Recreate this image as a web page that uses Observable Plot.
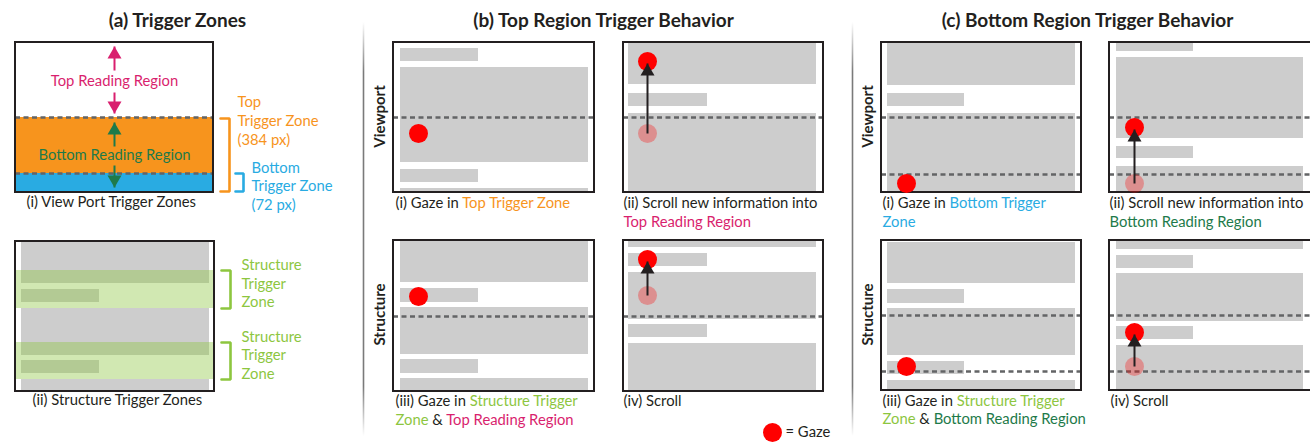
<!DOCTYPE html>
<html><head><meta charset="utf-8">
<script src="https://cdn.jsdelivr.net/npm/d3@7"></script>
<script src="https://cdn.jsdelivr.net/npm/@observablehq/plot@0.6"></script>
<style>html,body{margin:0;padding:0;background:#fff;overflow:hidden} svg{display:block}</style>
</head><body><div id="chart"></div>
<script>
// ---------- data ----------
// panels: outer box, content extent (full block x1..x2, short block end)
const panels = [
  {id:"a1", x1:15,  x2:213,  y1:42,  y2:192},
  {id:"a2", x1:15,  x2:214,  y1:241, y2:391, cx1:21,   cx2:209,  sx2:99},
  {id:"b1", x1:393, x2:594,  y1:42,  y2:192, cx1:400,  cx2:588,  sx2:478},
  {id:"b2", x1:623, x2:823,  y1:42,  y2:192, cx1:628,  cx2:816,  sx2:707},
  {id:"b3", x1:393, x2:594,  y1:240, y2:391, cx1:400,  cx2:588,  sx2:478},
  {id:"b4", x1:623, x2:823,  y1:240, y2:391, cx1:628,  cx2:816,  sx2:707},
  {id:"c1", x1:881, x2:1081, y1:42,  y2:192, cx1:887,  cx2:1075, sx2:964},
  {id:"c2", x1:1109,x2:1314, y1:42,  y2:192, cx1:1116, cx2:1303, sx2:1193},
  {id:"c3", x1:881, x2:1081, y1:240, y2:390, cx1:887,  cx2:1075, sx2:964},
  {id:"c4", x1:1109,x2:1314, y1:240, y2:390, cx1:1116, cx2:1303, sx2:1193}
];
// text blocks (gray) inside each panel: [panel, kind, top, bottom]
const blocks = [
  ["a2","full",241,283],["a2","short",289,302],["a2","full",308,355],["a2","short",360,373],["a2","full",379,391],
  ["b1","short",48,61],["b1","full",67,162],["b1","short",169,182],["b1","full",188,192],
  ["b2","full",42,84],["b2","short",93,106],["b2","full",113,192],
  ["b3","full",240,282],["b3","short",288,302],["b3","full",307,354],["b3","short",359,373],["b3","full",378,391],
  ["b4","full",240,247],["b4","short",253,266],["b4","full",272,319],["b4","short",324,337],["b4","full",343,391],
  ["c1","full",42,85],["c1","short",93,106],["c1","full",113,192],
  ["c2","short",42,51],["c2","full",57,138],["c2","short",146,158],["c2","full",166,192],
  ["c3","full",242,283],["c3","short",289,303],["c3","full",308,355],["c3","short",361,374],["c3","full",380,390],
  ["c4","full",240,249],["c4","short",255,268],["c4","full",273,321],["c4","short",326,339],["c4","full",345,390]
];
// trigger zones in panel (a)
const viewportZones = [
  {role:"orange", x1:15, x2:213, y1:117, y2:173},
  {role:"blue",   x1:15, x2:213, y1:173, y2:192}
];
const structureZones = [
  {x1:15, x2:214, y1:270, y2:308},
  {x1:15, x2:214, y1:342, y2:379}
];
// dashed trigger boundaries: [panel, y]
const boundaries = [
  ["a1",117],["a1",173],["b1",117],["b2",117],["b3",316],["b4",316],
  ["c1",117],["c1",174],["c2",117],["c2",174],["c3",315],["c3",371],["c4",315],["c4",371]
];
// gaze points
const gazeNow = [
  {x:418,y:133},{x:647,y:61},{x:418,y:296},{x:647,y:259},
  {x:906,y:183},{x:1134,y:127},{x:906,y:366},{x:1134,y:332},{x:772,y:432}
];
const gazeBefore = [{x:647,y:133},{x:647,y:295},{x:1134,y:183},{x:1134,y:366}];
// arrows: x, start y, tip y
const arrows = [
  {role:"ink", x:647, from:133, to:63},
  {role:"ink", x:647, from:295, to:261},
  {role:"ink", x:1134,from:183, to:129},
  {role:"ink", x:1134,from:366, to:334},
  {role:"pink", x:114, from:70, to:46},
  {role:"pink", x:114, from:92, to:113},
  {role:"green",x:114, from:146,to:122},
  {role:"green",x:114, from:165,to:187}
];
// brackets: stub x, spine x, top, bottom
const brackets = [
  {role:"orange", xs:220, xv:229, top:118, bottom:191},
  {role:"blue",   xs:235, xv:243, top:173, bottom:191},
  {role:"lime",   xs:221, xv:230, top:270, bottom:308},
  {role:"lime",   xs:221, xv:230, top:342, bottom:379}
];
const separators = [{x:363, y1:22, y2:436},{x:852, y1:22, y2:436}];
// text
const titles = [
  {x:177, y:20, text:"(a) Trigger Zones"},
  {x:603, y:20, text:"(b) Top Region Trigger Behavior"},
  {x:1087,y:20, text:"(c) Bottom Region Trigger Behavior"}
];
const rowLabels = [
  {x:380, y:116, text:"Viewport"},{x:380, y:314, text:"Structure"},
  {x:868, y:116, text:"Viewport"},{x:868, y:314, text:"Structure"}
];
const centeredNotes = [
  {x:114, y:81,  role:"pink",  text:"Top Reading Region"},
  {x:114, y:155, role:"green", text:"Bottom Reading Region"}
];
// left-aligned lines made of coloured segments
const textLines = [
  {x:237, y:102, segs:[["Top","orange"]]},
  {x:237, y:121, segs:[["Trigger Zone","orange"]]},
  {x:237, y:140, segs:[["(384 px)","orange"]]},
  {x:251, y:168, segs:[["Bottom","blue"]]},
  {x:251, y:186, segs:[["Trigger Zone","blue"]]},
  {x:251, y:205, segs:[["(72 px)","blue"]]},
  {x:26,  y:202, segs:[["(i) View Port Trigger Zones","ink"]]},
  {x:241, y:265, segs:[["Structure","lime"]]},
  {x:241, y:284, segs:[["Trigger","lime"]]},
  {x:241, y:302, segs:[["Zone","lime"]]},
  {x:241, y:337, segs:[["Structure","lime"]]},
  {x:241, y:355, segs:[["Trigger","lime"]]},
  {x:241, y:374, segs:[["Zone","lime"]]},
  {x:32,  y:400, segs:[["(ii) Structure Trigger Zones","ink"]]},
  {x:395, y:203, segs:[["(i) Gaze in ","ink"],["Top Trigger Zone","orange"]]},
  {x:623, y:203, segs:[["(ii) Scroll new information into","ink"]]},
  {x:623, y:222, segs:[["Top Reading Region","pink"]]},
  {x:395, y:401, segs:[["(iii) Gaze in ","ink"],["Structure Trigger","lime"]]},
  {x:395, y:420, segs:[["Zone","lime"],[" & ","ink"],["Top Reading Region","pink"]]},
  {x:623, y:401, segs:[["(iv) Scroll","ink"]]},
  {x:882, y:203, segs:[["(i) Gaze in ","ink"],["Bottom Trigger","blue"]]},
  {x:882, y:222, segs:[["Zone","blue"]]},
  {x:1109,y:203, segs:[["(ii) Scroll new information into","ink"]]},
  {x:1109,y:222, segs:[["Bottom Reading Region","green"]]},
  {x:882, y:401, segs:[["(iii) Gaze in ","ink"],["Structure Trigger","lime"]]},
  {x:882, y:419, segs:[["Zone","lime"],[" & ","ink"],["Bottom Reading Region","green"]]},
  {x:1110,y:401, segs:[["(iv) Scroll","ink"]]},
  {x:785, y:432, segs:[["= Gaze","ink"]]}
];

// ---------- styles ----------
const COLOR = {ink:"#231f20", pink:"#d91f6e", green:"#1e7a4a", orange:"#f7941d",
               blue:"#29abe2", lime:"#8dc63f"};
const FONT = "Lato, 'Noto Sans', sans-serif";
const BODY = 14.8;

// ---------- derived tables ----------
const P = Object.fromEntries(panels.map(p => [p.id, p]));
const blockRows = blocks.map(([id, kind, y1, y2]) => ({
  x1: P[id].cx1, x2: kind === "full" ? P[id].cx2 : P[id].sx2, y1, y2
}));
const boundaryRows = boundaries.map(([id, y]) => ({x1: P[id].x1, x2: P[id].x2, y}));
const bracketPts = brackets.flatMap((b, i) => [
  {i, role:b.role, x:b.xs, y:b.top}, {i, role:b.role, x:b.xv, y:b.top},
  {i, role:b.role, x:b.xv, y:b.bottom}, {i, role:b.role, x:b.xs, y:b.bottom}
]);
const triUp = {draw(c){ c.moveTo(0,0); c.lineTo(7,12); c.lineTo(-7,12); c.closePath(); }};
const triDown = {draw(c){ c.moveTo(0,0); c.lineTo(7,-12); c.lineTo(-7,-12); c.closePath(); }};
const col = d => COLOR[d.role];

const plot = Plot.plot({
  width: 1310, height: 442, margin: 0,
  x: {domain:[0,1310], range:[0,1310], axis:null},
  y: {domain:[0,442], range:[0,442], axis:null},
  style: {fontFamily: FONT, background:"#fff", overflow:"visible"},
  marks: [
    Plot.rect(viewportZones, {x1:"x1", x2:"x2", y1:"y1", y2:"y2", fill: col}),
    Plot.rect(blockRows, {x1:"x1", x2:"x2", y1:"y1", y2:"y2", fill:"#cdcdcd"}),
    Plot.rect(structureZones, {x1:"x1", x2:"x2", y1:"y1", y2:"y2", fill: COLOR.lime, fillOpacity:0.4}),
    Plot.ruleY(boundaryRows, {y:"y", x1:"x1", x2:"x2", stroke:"#636466", strokeWidth:2.6, strokeDasharray:"5,3.5"}),
    Plot.rect(panels, {x1:"x1", x2:"x2", y1:"y1", y2:"y2", fill:"none", stroke:COLOR.ink, strokeWidth:2}),
    Plot.ruleX(separators, {x:"x", y1:"y1", y2:"y2", stroke:"url(#sepGrad)", strokeWidth:1.6}),
    Plot.line(bracketPts, {x:"x", y:"y", z:"i", stroke: col, strokeWidth:2.6, strokeLinejoin:"miter", curve:"linear"}),
    Plot.dot(gazeBefore, {x:"x", y:"y", r:9.5, fill:"red", fillOpacity:0.3}),
    Plot.dot(gazeNow, {x:"x", y:"y", r:9.5, fill:"red"}),
    Plot.link(arrows, {x1:"x", x2:"x", y1:"from", y2:"to", stroke: col, strokeWidth:2}),
    Plot.dot(arrows.filter(a => a.to < a.from), {x:"x", y:"to", symbol: triUp, fill: col, stroke:"none"}),
    Plot.dot(arrows.filter(a => a.to > a.from), {x:"x", y:"to", symbol: triDown, fill: col, stroke:"none"}),
    Plot.text(titles, {x:"x", y:"y", text:"text", fontSize:19, fontWeight:"bold", fill:COLOR.ink, fontFamily:FONT}),
    Plot.text(rowLabels, {x:"x", y:"y", text:"text", rotate:-90, fontSize:15, fontWeight:"bold", fill:COLOR.ink, fontFamily:FONT}),
    Plot.text(centeredNotes, {x:"x", y:"y", text:"text", fill: col, fontSize:BODY, fontFamily:FONT}),
    Plot.text(textLines, {x:"x", y:"y", text: d => d.segs.map(s => s[0]).join(""), textAnchor:"start",
      fontSize:BODY, fill:COLOR.ink, fontFamily:FONT})
  ]
});

const svg = d3.select(plot);
const defs = svg.insert("defs", ":first-child");
const g = defs.append("linearGradient").attr("id","sepGrad").attr("gradientUnits","userSpaceOnUse")
  .attr("x1",0).attr("x2",0).attr("y1",22).attr("y2",436);
[[0,"#ffffff"],[0.12,"#7a7a7a"],[0.88,"#7a7a7a"],[1,"#ffffff"]].forEach(([o,c]) =>
  g.append("stop").attr("offset",o).attr("stop-color",c));

// colour the segments of each left-aligned line (texts are rendered in data order)
const segGroup = svg.selectAll("g").filter(function(){ return this.getAttribute("text-anchor") === "start"; });
segGroup.selectAll("text").each(function(_, i){
  const line = textLines[i];
  if (!line) return;
  const t = d3.select(this).style("white-space","pre");
  t.text(null);
  line.segs.forEach(([s, role]) => t.append("tspan").attr("fill", COLOR[role]).text(s));
});

document.getElementById("chart").appendChild(plot);
</script></body></html>
